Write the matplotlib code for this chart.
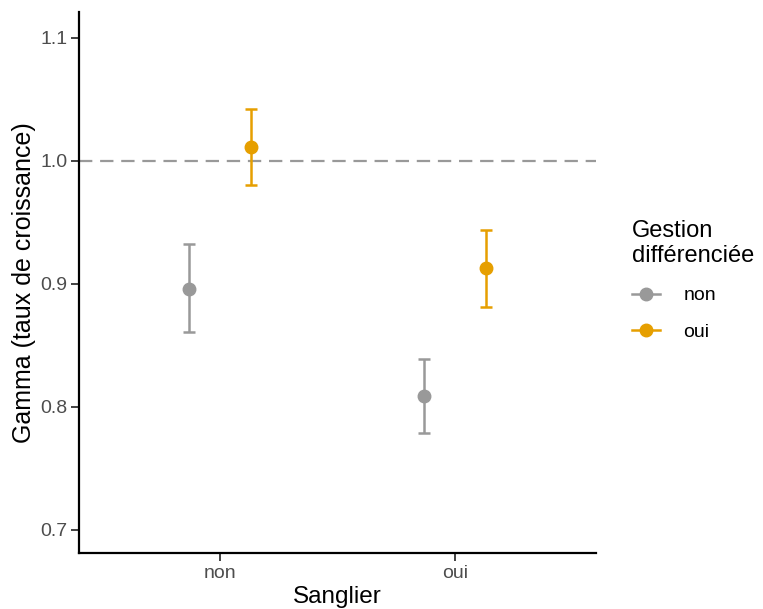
import matplotlib
matplotlib.use("Agg")
import matplotlib.pyplot as plt
import numpy as np
from matplotlib.lines import Line2D

plt.rcParams['font.family'] = ['Liberation Sans', 'DejaVu Sans']

categories = ["non", "oui"]          # Sanglier
groups = ["non", "oui"]              # Gestion différenciée
colors = ["#999999", "#E69F00"]
estimates = {"non": [0.896, 0.809], "oui": [1.011, 0.913]}
lower = {"non": [0.861, 0.779], "oui": [0.980, 0.881]}
upper = {"non": [0.932, 0.839], "oui": [1.042, 0.944]}
yticks = [0.7, 0.8, 0.9, 1.0, 1.1]

fig = plt.figure(figsize=(7.63, 6.09), dpi=100)
ax = fig.add_axes([79/763, 1-553/609, (596-79)/763, (553-12)/609])

x = np.arange(1, len(categories)+1)
offsets = [-0.132, 0.132]
for g, c, off in zip(groups, colors, offsets):
    est = np.array(estimates[g]); lo = np.array(lower[g]); hi = np.array(upper[g])
    ax.errorbar(x + off, est, yerr=[est - lo, hi - est], fmt='o', color=c,
                ecolor=c, elinewidth=1.8, capsize=4.5, capthick=1.8,
                markersize=9, zorder=3)

ax.axhline(1.0, color="#999999", linestyle=(0, (6, 3.5)), linewidth=1.6, zorder=1)

ax.set_xlim(0.4, 2.6)
ax.set_ylim(0.681, 1.121)
ax.set_xticks(x)
ax.set_xticklabels(categories)
ax.set_yticks(yticks)
ax.set_yticklabels([f"{v:.1f}" for v in yticks])
for s in ["top", "right"]:
    ax.spines[s].set_visible(False)
for s in ["left", "bottom"]:
    ax.spines[s].set_linewidth(1.6)
    ax.spines[s].set_color("black")
ax.tick_params(axis='both', length=5.5, width=1.3, color="#333333",
               labelsize=14, labelcolor="#4D4D4D", pad=3)
ax.set_xlabel("Sanglier", fontsize=17.5, labelpad=3)
ax.set_ylabel("Gamma (taux de croissance)", fontsize=18, labelpad=3)

handles = [Line2D([0], [0], color=c, marker='o', markersize=9, linewidth=1.8)
           for c in colors]
leg = fig.legend(handles, groups, title="Gestion\ndifférenciée",
                 loc="upper left", bbox_to_anchor=(632/763, 1-220/609),
                 frameon=False, fontsize=14, title_fontsize=17,
                 borderpad=0, borderaxespad=0,
                 handlelength=1.45, handletextpad=1.2, labelspacing=0.95)
leg._legend_box.align = "left"
leg._legend_box.sep = 14

fig.savefig("out.png", dpi=100)
